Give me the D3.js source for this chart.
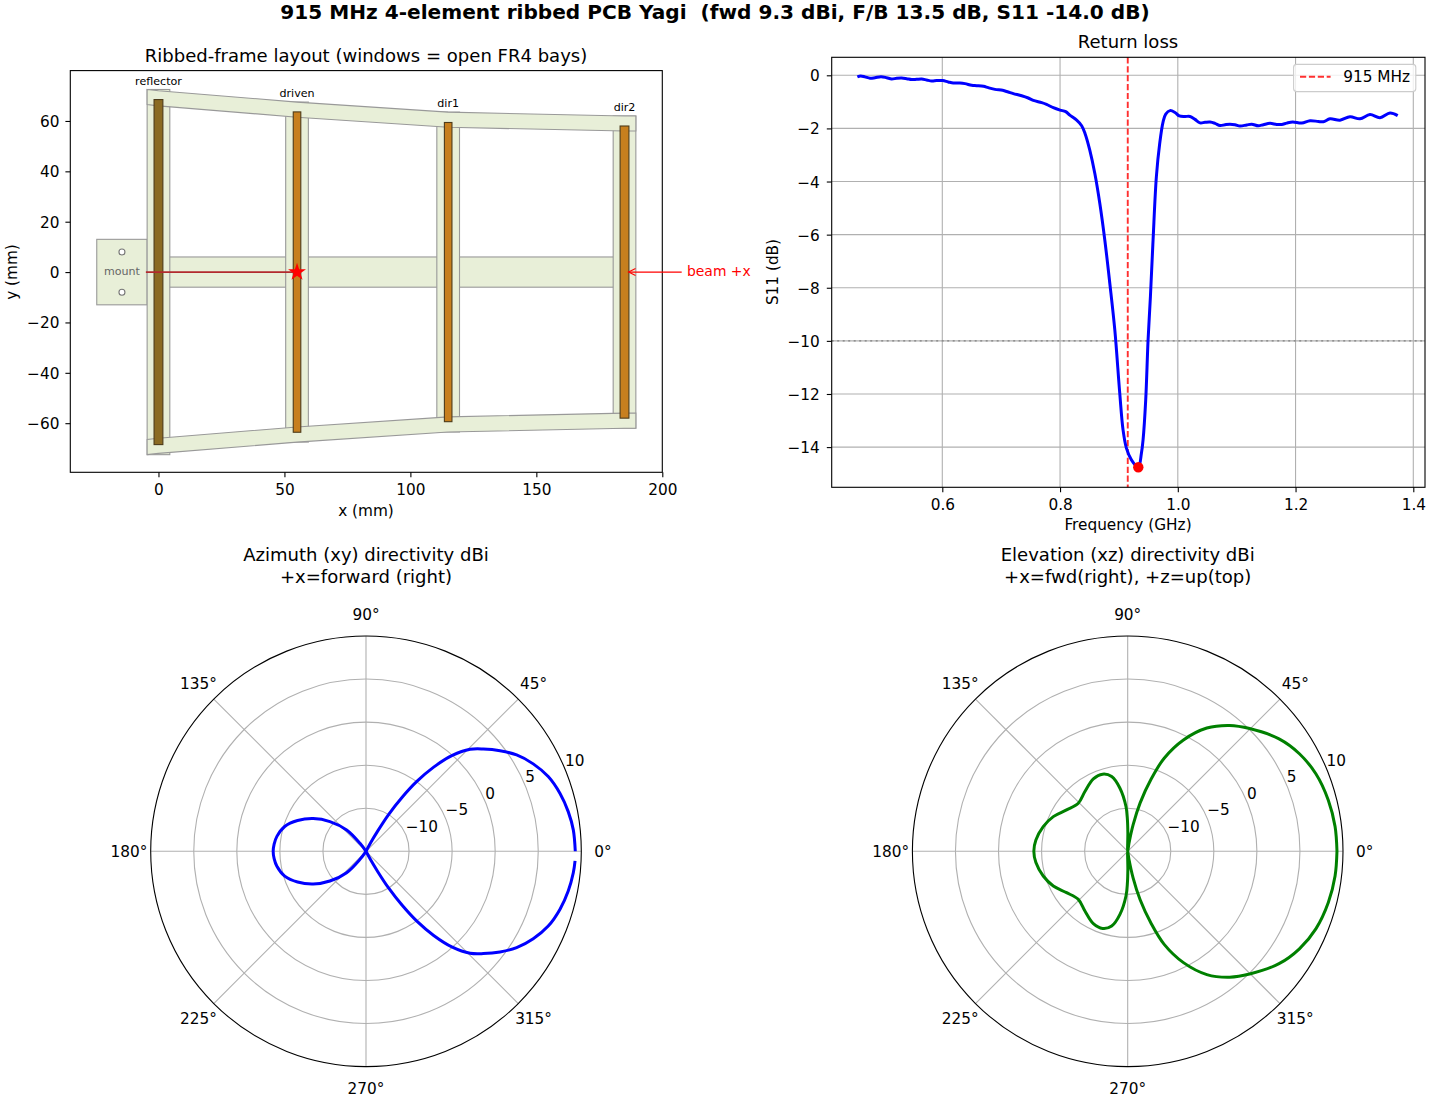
<!DOCTYPE html>
<html>
<head>
<meta charset="utf-8">
<script src="https://cdn.jsdelivr.net/npm/d3@7"></script>
<style>
body { margin: 0; background: #fff; }
text { font-family: "DejaVu Sans", sans-serif; fill: #000; }
.tick text { font-size: 15.3px; }
</style>
</head>
<body>
<script>
// frame layout (mm)
const ribNames = ["reflector", "driven", "dir1", "dir2"];
const ribX = [0, 55, 115, 185];
const ribHalfLen = [72.5, 67.5, 63.5, 62];
const ribHalfWidth = 4.5;
const railX = [-4.5, 0, 55, 115, 185, 189.5];
const railOuter = [72.5, 72, 67.5, 63.5, 62, 62];
const railInner = [66.5, 66, 61.5, 57.5, 56, 56];
const elemHalfLen = [68.5, 63.6, 59.4, 58];
const elemHalfWidth = [1.75, 1.5, 1.5, 1.75];
const elemColor = ["#8b6b23", "#c77f1e", "#c77f1e", "#c77f1e"];
const labelY = [74.3, 69.5, 65.4, 63.9];
const holesY = [8, -8];

// return loss
const freq = [.4557,.4614,.4687,.4772,.4857,.4959,.5055,.514,.5225,.531,.5395,.548,.5565,.565,.5734,.582,.5904,.6006,.61,.6187,.63,.6386,.65,.6584,.67,.678,.6895,.7025,.712,.7207,.7348,.746,.7546,.7688,.777,.7886,.8,.8096,.8165,.8282,.8367,.8424,.8504,.859,.8675,.876,.8845,.893,.9014,.907,.9127,.9212,.9329,.9382,.941,.9455,.9495,.9535,.958,.9636,.9693,.975,.9795,.9868,.9953,1.0026,1.0122,1.0207,1.0292,1.0377,1.0463,1.0548,1.0632,1.0717,1.0802,1.0886,1.0971,1.1057,1.117,1.1255,1.1368,1.1453,1.1566,1.168,1.1764,1.185,1.1952,1.2105,1.2246,1.2387,1.2472,1.2585,1.2755,1.2925,1.3095,1.3264,1.3434,1.3604,1.3735];
const s11 = [-.06,-.025,-.06,-.11,-.09,-.05,-.09,-.14,-.11,-.1,-.126,-.16,-.15,-.14,-.176,-.214,-.2,-.2,-.25,-.29,-.29,-.314,-.377,-.39,-.415,-.465,-.53,-.566,-.63,-.69,-.77,-.855,-.943,-1.03,-1.095,-1.22,-1.31,-1.37,-1.5,-1.69,-1.9,-2.19,-2.81,-3.69,-4.82,-6.2,-7.83,-9.59,-11.97,-13.35,-14.04,-14.48,-14.76,-14.23,-13.73,-12.22,-9.97,-8.33,-6.2,-3.82,-2.56,-1.75,-1.46,-1.33,-1.4,-1.53,-1.55,-1.55,-1.66,-1.79,-1.77,-1.76,-1.81,-1.89,-1.86,-1.84,-1.86,-1.91,-1.87,-1.84,-1.9,-1.86,-1.81,-1.85,-1.85,-1.8,-1.76,-1.8,-1.71,-1.74,-1.75,-1.64,-1.69,-1.56,-1.64,-1.48,-1.6,-1.42,-1.52];
const bestFreq = 0.9329, bestS11 = -14.76;

// polar cuts
const azAngle = [0,5.9,11.1,16.6,22.3,27.6,32.6,36.9,41.1,44.4,48,51.2,54,56.2,58.4,60,61.5,63,90,122,126.9,132.2,140.5,148.2,155.8,163,170.5,175.5,180,184.5,189.5,197,204.2,211.8,219.5,227.8,233.1,238,270,297,298.5,300,301.6,303.8,306,308.8,312,315.6,318.9,323.1,327.4,332.4,337.7,343.4,348.9,354.1,357.4];
const azDb = [9.3,9.2,8.93,8.51,7.87,6.91,5.76,4.46,3.07,1.92,-.02,-2.46,-5.01,-7.45,-10,-12.33,-13.84,-15,-15,-15,-13.84,-11.65,-9.57,-7.79,-6.29,-5.13,-4.51,-4.3,-4.22,-4.3,-4.51,-5.13,-6.29,-7.79,-9.57,-11.65,-13.84,-15,-15,-15,-13.84,-12.33,-10,-7.45,-5.01,-2.46,-.02,1.92,3.07,4.46,5.76,6.91,7.87,8.51,8.93,9.2,9.3];
const elAngle = [0,6.8,14.3,22.4,29.6,36.6,45.2,51,57.3,63.4,68.6,72,75.6,78.5,81,85,89.5,90.5,92.2,97,102.1,108,115.4,125.6,135.8,145.9,155,163.7,173,180,187,196.3,205,214.1,224.2,234.4,244.6,252,257.9,263,267.8,269.5,270.5,275,279,281.5,284.4,288,291.4,296.6,302.7,309,314.8,323.4,330.4,337.6,345.7,353.2,360];
const elDb = [9.3,9.25,9.04,8.63,7.93,6.89,5.09,3.81,2.01,-.54,-3.39,-6.18,-9.19,-11.86,-14.07,-15,-12.9,-11.36,-9.8,-7.62,-6.12,-5.58,-5.7,-6.47,-7,-6.43,-5.47,-4.78,-4.26,-4.1,-4.26,-4.78,-5.47,-6.43,-7,-6.47,-5.7,-5.58,-6.12,-7.62,-9.8,-11.36,-12.9,-15,-14.07,-11.86,-9.19,-6.18,-3.39,-.54,2.01,3.81,5.09,6.89,7.93,8.63,9.04,9.25,9.3];
const angleTicks = [0,45,90,135,180,225,270,315];
const ringTicks = [-10,-5,0,5];
const ringLabels = [-10,-5,0,5,10];

const fs = 15.3;
const svg = d3.select("body").append("svg")
    .attr("width",1430)
    .attr("height",1100);

svg.append("text").attr("x",715).attr("y",19)
    .attr("text-anchor","middle").style("font-size","20.1px").style("font-weight","bold")
    .style("white-space","pre")
    .text("915 MHz 4-element ribbed PCB Yagi  (fwd 9.3 dBi, F/B 13.5 dB, S11 -14.0 dB)");

function label(x,y,txt,size,anchor){
    return svg.append("text").attr("x",x).attr("y",y)
        .attr("text-anchor",anchor||"middle").style("font-size",size+"px").text(txt);
}
function styleAxis(g){
    g.select(".domain").remove();
    g.selectAll(".tick line").attr("stroke","#000").attr("stroke-width",1.1);
}

// ---------- layout panel
const lx = d3.scaleLinear().domain([-35,200]).range([70.3,662.3]);
const ly = d3.scaleLinear().domain([-79.5,80]).range([472.3,70.6]);
const edge = "#999", board = "#e8efd8";
const layout = svg.append("g");

layout.append("rect")
    .attr("x",lx(-24.5)).attr("y",ly(13))
    .attr("width",lx(-4.5)-lx(-24.5)).attr("height",ly(-13)-ly(13))
    .attr("fill",board).attr("stroke",edge).attr("stroke-width",1.1);
layout.append("rect")
    .attr("x",lx(ribX[0])).attr("y",ly(6))
    .attr("width",lx(ribX[3])-lx(ribX[0])).attr("height",ly(-6)-ly(6))
    .attr("fill",board).attr("stroke",edge).attr("stroke-width",1.1);
layout.selectAll("rect.rib").data(ribX).enter().append("rect")
    .attr("class","rib")
    .attr("x",d => lx(d-ribHalfWidth))
    .attr("width",lx(ribHalfWidth)-lx(-ribHalfWidth))
    .attr("y",(d,i) => ly(ribHalfLen[i]))
    .attr("height",(d,i) => ly(-ribHalfLen[i])-ly(ribHalfLen[i]))
    .attr("fill",board).attr("stroke",edge).attr("stroke-width",1.1);

[1,-1].forEach(function(sign){
    const pts = railX.map((x,i) => [lx(x),ly(sign*railOuter[i])])
        .concat(railX.map((x,i) => [lx(x),ly(sign*railInner[i])]).reverse());
    layout.append("path")
        .attr("d",d3.line()(pts)+"Z")
        .attr("fill",board).attr("stroke",edge).attr("stroke-width",1.1);
});

layout.selectAll("circle.hole").data(holesY).enter().append("circle")
    .attr("class","hole")
    .attr("cx",lx(-14.5)).attr("cy",d => ly(d)).attr("r",3)
    .attr("fill","#fff").attr("stroke","#777").attr("stroke-width",1.1);
label(lx(-14.5),275,"mount",11.1).style("fill","#666");

layout.selectAll("rect.elem").data(ribX).enter().append("rect")
    .attr("class","elem")
    .attr("x",(d,i) => lx(d-elemHalfWidth[i]))
    .attr("width",(d,i) => lx(elemHalfWidth[i])-lx(-elemHalfWidth[i]))
    .attr("y",(d,i) => ly(elemHalfLen[i]))
    .attr("height",(d,i) => ly(-elemHalfLen[i])-ly(elemHalfLen[i]))
    .attr("fill",(d,i) => elemColor[i]).attr("stroke","#4d3b1a").attr("stroke-width",1.1);
ribNames.forEach(function(n,i){
    label(lx(ribX[i]),ly(labelY[i]),n,11.1);
});

layout.append("line")
    .attr("x1",lx(-5)).attr("x2",lx(55)).attr("y1",ly(0)).attr("y2",ly(0))
    .attr("stroke","#b22a2e").attr("stroke-width",1.6);
layout.append("path")
    .attr("transform",`translate(${lx(55)},${ly(0)})`)
    .attr("d",d3.symbol(d3.symbolStar,100)())
    .attr("fill","red");

// beam arrow
svg.append("line")
    .attr("x1",lx(207.7)).attr("x2",lx(186.6)).attr("y1",ly(0)).attr("y2",ly(0))
    .attr("stroke","red").attr("stroke-width",1.1);
svg.append("path")
    .attr("d",d3.line()([[lx(186.6)+7,ly(0)-3.5],[lx(186.6),ly(0)],[lx(186.6)+7,ly(0)+3.5]]))
    .attr("fill","none").attr("stroke","red").attr("stroke-width",1.1);
label(687,276,"beam +x",13.9,"start").style("fill","red");

layout.append("rect")
    .attr("x",70.3).attr("y",70.6).attr("width",592).attr("height",401.7)
    .attr("fill","none").attr("stroke","#000").attr("stroke-width",1.1);
svg.append("g").attr("transform","translate(0,472.3)")
    .call(d3.axisBottom(lx).tickValues([0,50,100,150,200]).tickSize(4.9).tickPadding(7).tickFormat(d3.format("d")))
    .call(styleAxis);
svg.append("g").attr("transform","translate(70.3,0)")
    .call(d3.axisLeft(ly).tickValues([-60,-40,-20,0,20,40,60]).tickSize(4.9).tickPadding(6))
    .call(styleAxis)
    .call(g => g.selectAll(".tick text").attr("dy","0.36em"));
label(366,62,"Ribbed-frame layout (windows = open FR4 bays)",18.05);
label(366,516,"x (mm)",fs);
label(0,0,"y (mm)",fs).attr("transform","translate(17,272) rotate(-90)");

// ---------- return loss panel
const rlLeft = 831.7, rlRight = 1425, rlTop = 57.3, rlBottom = 487.3;
const fx = d3.scaleLinear().domain([.6,1.4]).range([942.3,1413.3]);
const sy = d3.scaleLinear().domain([-14,0]).range([447.1,75.3]);
const fTicks = [.6,.8,1,1.2,1.4];
const sTicks = [-14,-12,-10,-8,-6,-4,-2,0];
const rl = svg.append("g");

rl.selectAll("line.gx").data(fTicks).enter().append("line")
    .attr("class","gx").attr("x1",d => fx(d)).attr("x2",d => fx(d))
    .attr("y1",rlTop).attr("y2",rlBottom)
    .attr("stroke","#b0b0b0").attr("stroke-width",1.1);
rl.selectAll("line.gy").data(sTicks).enter().append("line")
    .attr("class","gy").attr("y1",d => sy(d)).attr("y2",d => sy(d))
    .attr("x1",rlLeft).attr("x2",rlRight)
    .attr("stroke","#b0b0b0").attr("stroke-width",1.1);

rl.append("line")
    .attr("x1",rlLeft).attr("x2",rlRight).attr("y1",sy(-10)).attr("y2",sy(-10))
    .attr("stroke","#808080").attr("stroke-width",1.4).attr("stroke-dasharray","2 3.5");
rl.append("line")
    .attr("x1",fx(.915)).attr("x2",fx(.915)).attr("y1",rlTop).attr("y2",rlBottom)
    .attr("stroke","#ff3030").attr("stroke-width",1.9).attr("stroke-dasharray","6.2 2.7");

rl.append("path")
    .attr("d",d3.line().x(d => fx(d[0])).y(d => sy(d[1])).curve(d3.curveCatmullRom.alpha(.5))(d3.zip(freq,s11)))
    .attr("fill","none").attr("stroke","#0000ff").attr("stroke-width",3);
rl.append("circle")
    .attr("cx",fx(bestFreq)).attr("cy",sy(bestS11)).attr("r",5.2).attr("fill","red");

// legend
rl.append("rect")
    .attr("x",1293.6).attr("y",64.4).attr("width",122.2).attr("height",27.2).attr("rx",3)
    .attr("fill","#fff").attr("fill-opacity",.8).attr("stroke","#ccc").attr("stroke-width",1.1);
rl.append("line")
    .attr("x1",1300).attr("x2",1330.6).attr("y1",76.8).attr("y2",76.8)
    .attr("stroke","#ff3030").attr("stroke-width",1.9).attr("stroke-dasharray","6.2 2.7");
label(1343.3,82.3,"915 MHz",fs,"start");

rl.append("rect")
    .attr("x",rlLeft).attr("y",rlTop).attr("width",rlRight-rlLeft).attr("height",rlBottom-rlTop)
    .attr("fill","none").attr("stroke","#000").attr("stroke-width",1.1);
svg.append("g").attr("transform",`translate(0,${rlBottom})`)
    .call(d3.axisBottom(fx).tickValues(fTicks).tickSize(4.9).tickPadding(7).tickFormat(d3.format(".1f")))
    .call(styleAxis);
svg.append("g").attr("transform",`translate(${rlLeft},0)`)
    .call(d3.axisLeft(sy).tickValues(sTicks).tickSize(4.9).tickPadding(7))
    .call(styleAxis)
    .call(g => g.selectAll(".tick text").attr("dy","0.36em"));
label(1128,47.5,"Return loss",18.05);
label(1128,530,"Frequency (GHz)",fs);
label(0,0,"S11 (dB)",fs).attr("transform","translate(778,272) rotate(-90)");

// ---------- polar panels
const rScale = d3.scaleLinear().domain([-15,10]).range([0,215.3]);
const aScale = d3.scaleLinear().domain([0,360]).range([Math.PI/2,Math.PI/2-2*Math.PI]);

function polar(cx,cy,title1,title2,angles,values,color){
    const g = svg.append("g").attr("transform",`translate(${cx},${cy})`);
    g.selectAll("circle.ring").data(ringTicks).enter().append("circle")
        .attr("class","ring").attr("r",d => rScale(d))
        .attr("fill","none").attr("stroke","#b0b0b0").attr("stroke-width",1.1);
    g.selectAll("line.spoke").data(angleTicks).enter().append("line")
        .attr("class","spoke")
        .attr("x2",d => rScale(10)*Math.cos(d*Math.PI/180))
        .attr("y2",d => -rScale(10)*Math.sin(d*Math.PI/180))
        .attr("stroke","#b0b0b0").attr("stroke-width",1.1);
    g.append("circle").attr("r",rScale(10))
        .attr("fill","none").attr("stroke","#000").attr("stroke-width",1.1);
    g.append("path")
        .attr("d",d3.lineRadial().angle(d => aScale(d[0])).radius(d => rScale(d[1]))
            .curve(d3.curveCatmullRom.alpha(.5))(d3.zip(angles,values)))
        .attr("fill","none").attr("stroke",color).attr("stroke-width",3);
    g.selectAll("text.alab").data(angleTicks).enter().append("text")
        .attr("class","alab")
        .attr("x",d => 237*Math.cos(d*Math.PI/180))
        .attr("y",d => -237*Math.sin(d*Math.PI/180)+5.5)
        .attr("text-anchor","middle").style("font-size",fs+"px")
        .text(d => d+"\u00b0");
    g.selectAll("text.rlab").data(ringLabels).enter().append("text")
        .attr("class","rlab")
        .attr("x",d => rScale(d)*Math.cos(22.5*Math.PI/180))
        .attr("y",d => -rScale(d)*Math.sin(22.5*Math.PI/180)-3)
        .attr("text-anchor","start").style("font-size",fs+"px")
        .text(d => d3.format("d")(d));
    label(cx,561,title1,18.05);
    label(cx,583,title2,18.05);
}
polar(366,851.3,"Azimuth (xy) directivity dBi","+x=forward (right)",azAngle,azDb,"#0000ff");
polar(1127.7,851.3,"Elevation (xz) directivity dBi","+x=fwd(right), +z=up(top)",elAngle,elDb,"#008000");
</script>
</body>
</html>
